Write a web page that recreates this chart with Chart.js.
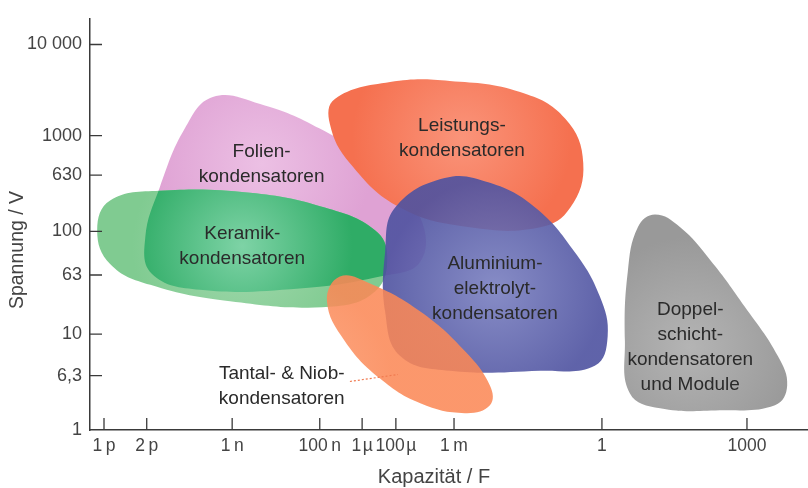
<!DOCTYPE html>
<html>
<head>
<meta charset="utf-8">
<script src="https://cdn.jsdelivr.net/npm/chart.js@4.4.0/dist/chart.umd.min.js"></script>
<style>
  body { margin: 0; background: #fff; }
  #wrap { width: 808px; height: 488px; }
</style>
</head>
<body>
<div id="wrap"><canvas id="chart"></canvas></div>
<script>
// axis positions are in "percent of axis length" units (the original axes are schematic)
const xTickLabels = ["1\u2009p", "2\u2009p", "1\u2009n", "100\u2009n", "1\u200a\u00b5", "100\u200a\u00b5", "1\u2009m", "1", "1000"];
const xTickPos = [1.95, 7.9, 19.8, 32.0, 37.9, 42.6, 50.7, 71.3, 91.5];
const yTickLabels = ["1", "6,3", "10", "63", "100", "630", "1000", "10 000"];
const yTickPos = [0, 13.2, 23.3, 37.7, 48.3, 62.0, 71.6, 93.75];

// outlines of the regions (x, y)
const folien = [[17.1, 81.0], [23.7, 79.3], [32.0, 73.3], [40.4, 63.7], [46.0, 51.7], [46.0, 40.9], [40.4, 37.3], [29.2, 34.4], [15.3, 34.1], [8.6, 38.0], [7.7, 46.9], [9.7, 58.9], [13.2, 73.3]];
const leistung = [[34.1, 80.5], [41.8, 84.6], [50.1, 84.9], [59.9, 82.2], [66.2, 75.7], [68.7, 64.9], [66.9, 54.1], [62.7, 49.3], [52.9, 49.3], [43.2, 54.1], [36.2, 64.9], [33.4, 74.5]];
const keramik = [[1.0, 48.6], [2.8, 55.8], [9.7, 58.2], [22.3, 57.7], [32.7, 54.1], [39.7, 48.6], [41.4, 42.1], [39.7, 33.7], [33.4, 30.0], [19.5, 31.3], [8.4, 35.3], [2.8, 40.4]];
const aluminium = [[49.4, 61.3], [55.7, 60.1], [62.0, 54.1], [67.5, 43.3], [71.0, 32.5], [72.1, 22.8], [70.3, 15.6], [62.7, 14.4], [50.1, 14.4], [43.2, 18.0], [41.1, 28.8], [41.1, 43.3], [42.5, 54.1]];
const tantal = [[34.8, 37.3], [39.0, 35.6], [46.0, 28.8], [52.2, 19.2], [55.7, 10.8], [55.7, 6.0], [52.2, 4.1], [46.0, 6.5], [40.4, 12.5], [35.5, 21.6], [33.0, 31.3]];
const doppel = [[78.7, 52.4], [82.2, 49.3], [86.4, 41.3], [91.2, 30.0], [95.8, 18.0], [97.1, 10.8], [95.4, 6.0], [87.7, 4.8], [79.4, 5.3], [75.2, 8.9], [74.5, 21.6], [74.9, 38.5], [76.3, 49.3]];
const tantalPointer = [[36.2, 11.8], [42.9, 13.5]];

// region names and where their text sits
const labelLines = [
  ["Folien-", "kondensatoren"],
  ["Leistungs-", "kondensatoren"],
  ["Keramik-", "kondensatoren"],
  ["Aluminium-", "elektrolyt-", "kondensatoren"],
  ["Tantal- & Niob-", "kondensatoren"],
  ["Doppel-", "schicht-", "kondensatoren", "und Module"]
];
const labelPos = [[23.9, 64.7], [51.8, 71.0], [21.2, 44.7], [56.4, 34.3], [26.7, 10.7], [83.6, 20.2]];

const shapes = [folien, leistung, keramik, aluminium, tantal, doppel];
// [edge colour, centre colour]
const colors = [
  ["#dfa2d4", "#ecc0e4"],
  ["#f5704f", "#fa947a"],
  ["#80cb91", "#a3d9ae"],
  ["rgba(78,82,160,0.9)", "rgba(122,128,192,0.9)"],
  ["rgba(251,136,86,0.87)", "rgba(252,160,118,0.87)"],
  ["#999999", "#b4b4b4"]
];
const overlapGreen = ["#2fac66", "#7ed3a6"];

const toPts = arr => arr.map(p => ({ x: p[0], y: p[1] }));

function radial(chart, i, c) {
  const xs = chart.scales.x, ys = chart.scales.y;
  if (!xs || !ys || !chart.chartArea) return c[0];
  const cx = xs.getPixelForValue(labelPos[i][0]);
  const cy = ys.getPixelForValue(labelPos[i][1]);
  const g = chart.ctx.createRadialGradient(cx, cy, 0, cx, cy, 110);
  g.addColorStop(0, c[1]);
  g.addColorStop(1, c[0]);
  return g;
}

const datasets = shapes.map((s, i) => ({
  data: toPts(s),
  backgroundColor: ctx => radial(ctx.chart, i, colors[i]),
  borderWidth: 0,
  pointRadius: 0,
  tension: 0.42,
  fill: "shape",
  order: 20 - i
}));
datasets.push({
  data: toPts(tantalPointer),
  borderColor: "#f07a50",
  borderWidth: 1.2,
  borderDash: [2, 2],
  pointRadius: 0,
  fill: false,
  tension: 0,
  noLoop: true,
  order: 1
});

// close the outlines smoothly, like the radar chart does
const loopPlugin = {
  id: "loop",
  afterDatasetUpdate(chart, args) {
    const ds = chart.data.datasets[args.index];
    const line = args.meta.dataset;
    if (line && !ds.noLoop) {
      line._loop = true;
      line._fullLoop = true;
      line._segments = undefined;
    }
  },
  // darker green where Keramik lies over Folien
  afterDatasetDraw(chart, args) {
    if (args.index !== 2) return;
    const ctx = chart.ctx;
    const kLine = chart.getDatasetMeta(2).dataset;
    const fLine = chart.getDatasetMeta(0).dataset;
    ctx.save();
    ctx.beginPath();
    kLine.path(ctx);
    ctx.closePath();
    ctx.clip();
    ctx.beginPath();
    fLine.path(ctx);
    ctx.closePath();
    ctx.fillStyle = radial(chart, 2, overlapGreen);
    ctx.fill();
    ctx.restore();
  }
};

const decorPlugin = {
  id: "decor",
  afterDraw(chart) {
    const ctx = chart.ctx;
    const xs = chart.scales.x, ys = chart.scales.y;
    const area = chart.chartArea;
    ctx.save();
    // inward tick marks
    ctx.strokeStyle = "#3a3a3a";
    ctx.lineWidth = 1.3;
    ctx.beginPath();
    xTickPos.forEach(v => {
      const px = xs.getPixelForValue(v);
      ctx.moveTo(px, area.bottom);
      ctx.lineTo(px, area.bottom - 12);
    });
    yTickPos.forEach(v => {
      if (v === 0) return;
      const py = ys.getPixelForValue(v);
      ctx.moveTo(area.left, py);
      ctx.lineTo(area.left + 12, py);
    });
    ctx.stroke();

    // region labels
    ctx.fillStyle = "#2a2a2a";
    ctx.font = "19px 'Liberation Sans', Arial, sans-serif";
    ctx.textAlign = "center";
    ctx.textBaseline = "middle";
    labelLines.forEach((lines, i) => {
      const cx = xs.getPixelForValue(labelPos[i][0]);
      const cy = ys.getPixelForValue(labelPos[i][1]);
      const lh = 25;
      lines.forEach((t, j) => {
        ctx.fillText(t, cx, cy + (j - (lines.length - 1) / 2) * lh);
      });
    });

    // axis titles
    ctx.fillStyle = "#444";
    ctx.font = "19.5px 'Liberation Sans', Arial, sans-serif";
    ctx.save();
    ctx.translate(18, 250);
    ctx.rotate(-Math.PI / 2);
    ctx.fillText("Spannung / V", 0, 0);
    ctx.restore();
    ctx.font = "20px 'Liberation Sans', Arial, sans-serif";
    ctx.fillText("Kapazit\u00e4t / F", 434, 477);
    ctx.restore();
  }
};

new Chart(document.getElementById("chart"), {
  type: "line",
  data: { datasets: datasets },
  options: {
    responsive: true,
    maintainAspectRatio: false,
    animation: false,
    layout: { padding: { top: 14, right: 0, left: 0, bottom: 0 } },
    plugins: { legend: { display: false }, tooltip: { enabled: false } },
    scales: {
      x: {
        type: "linear",
        min: 0,
        max: 100,
        afterFit: s => { s.height = 58; },
        afterBuildTicks: s => { s.ticks = xTickPos.map(v => ({ value: v })); },
        grid: { display: false, drawTicks: false },
        border: { display: true, color: "#3a3a3a", width: 1.5 },
        ticks: {
          autoSkip: false,
          maxRotation: 0,
          padding: 6,
          color: "#444",
          font: { family: "'Liberation Sans', Arial, sans-serif", size: 17.5 },
          callback: (v, i) => xTickLabels[i]
        }
      },
      y: {
        type: "linear",
        min: 0,
        max: 100,
        afterFit: s => { s.width = 90; },
        afterBuildTicks: s => { s.ticks = yTickPos.map(v => ({ value: v })); },
        grid: { display: false, drawTicks: false },
        border: { display: true, color: "#3a3a3a", width: 1.5 },
        ticks: {
          autoSkip: false,
          padding: 8,
          color: "#444",
          font: { family: "'Liberation Sans', Arial, sans-serif", size: 18 },
          callback: (v, i) => yTickLabels[i]
        }
      }
    }
  },
  plugins: [loopPlugin, decorPlugin]
});
</script>
</body>
</html>
